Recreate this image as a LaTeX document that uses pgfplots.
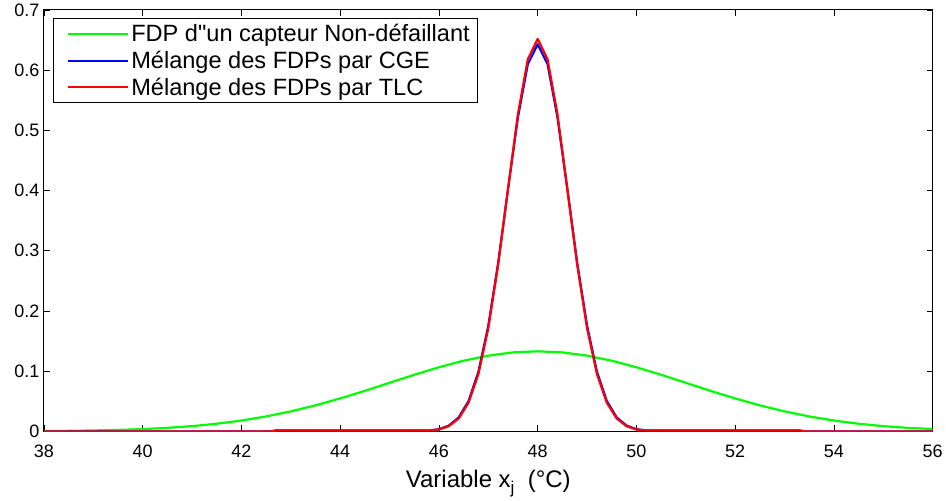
\documentclass[border=0pt]{standalone}
\usepackage{pgfplots}
\pgfplotsset{compat=1.18}
\usepackage{fontspec}
\setmainfont{Liberation Sans}
\newfontfamily\nomap{Liberation Sans}
\begin{document}
\begin{tikzpicture}
\begin{axis}[
  name=ax,
  width=890pt, height=422pt, scale only axis,
  xmin=38, xmax=56, ymin=0, ymax=0.7,
  xtick={38,40,...,56},
  ytick={0,0.1,0.2,0.3,0.4,0.5,0.6,0.7},
  yticklabel style={/pgf/number format/fixed},
  /pgf/number format/assume math mode=true,
  tick align=inside,
  major tick length=6pt,
  tick style={black, line width=0.8pt},
  axis line style={line width=1pt},
  ticklabel style={font=\fontsize{18}{20}\selectfont},
  xticklabel style={yshift=-10pt},
  yticklabel style={xshift=-1pt},
  xlabel={Variable x\raisebox{-6pt}{\fontsize{17}{17}\selectfont j}\ \ (°C)},
  xlabel style={font=\fontsize{24}{26}\selectfont, yshift=-6pt},
  legend style={at={(0.0101,0.981)}, anchor=north west, draw=black, line width=0.8pt,
    font=\fontsize{23.6}{27}\selectfont, inner xsep=6pt, inner ysep=4pt,
    row sep=4pt, legend cell align=left},
  legend image code/.code={\path (-8pt,0pt); \draw[#1, line width=2pt] (0pt,0pt) -- (60pt,0pt);},
  every axis plot/.append style={line width=2.2pt, line join=round},
]
\addplot[color={rgb,1:red,0;green,1;blue,0}] coordinates {
(38,0.0005)(38.5,0.0009)(39,0.0015)(39.5,0.0024)(40,0.0038)(40.5,0.0058)(41,0.0087)(41.5,0.0127)
(42,0.0180)(42.5,0.0248)(43,0.0332)(43.5,0.0432)(44,0.0547)(44.5,0.0673)(45,0.0807)(45.5,0.0940)
(46,0.1065)(46.5,0.1174)(47,0.1258)(47.5,0.1312)(48,0.1330)(48.5,0.1312)(49,0.1258)(49.5,0.1174)
(50,0.1065)(50.5,0.0940)(51,0.0807)(51.5,0.0673)(52,0.0547)(52.5,0.0432)(53,0.0332)(53.5,0.0248)
(54,0.0180)(54.5,0.0127)(55,0.0087)(55.5,0.0058)(56,0.0040)
};
\addlegendentry{FDP d{\nomap"}un capteur Non-défaillant}
\addplot[color={rgb,1:red,0;green,0;blue,1}] coordinates {
(38,0)(42.6,0)(42.7,0.0015)(45.8,0.0015)
(46.0,0.0036)(46.2,0.0096)(46.4,0.0231)(46.6,0.0504)(46.8,0.0991)(47.0,0.1755)(47.2,0.280)(47.4,0.403)
(47.6,0.522)(47.8,0.610)(48.0,0.643)(48.2,0.610)(48.4,0.522)(48.6,0.403)(48.8,0.280)(49.0,0.1755)
(49.2,0.0991)(49.4,0.0504)(49.6,0.0231)(49.8,0.0096)(50.0,0.0036)
(50.2,0.0015)(53.3,0.0015)(53.4,0)(56,0)
};
\addlegendentry{Mélange des FDPs par CGE}
\addplot[color={rgb,1:red,1;green,0;blue,0}] coordinates {
(38,0)(42.6,0)(42.7,0.0015)(45.8,0.0015)
(46.0,0.0031)(46.2,0.0086)(46.4,0.0214)(46.6,0.0476)(46.8,0.0953)(47.0,0.1716)(47.2,0.277)(47.4,0.403)
(47.6,0.527)(47.8,0.618)(48.0,0.652)(48.2,0.618)(48.4,0.527)(48.6,0.403)(48.8,0.277)(49.0,0.1716)
(49.2,0.0953)(49.4,0.0476)(49.6,0.0214)(49.8,0.0086)(50.0,0.0031)
(50.2,0.0015)(53.3,0.0015)(53.4,0)(56,0)
};
\addlegendentry{Mélange des FDPs par TLC}
\end{axis}
\useasboundingbox ([shift={(-44pt,-67pt)}]ax.south west) rectangle ([shift={(12pt,10pt)}]ax.north east);
\end{tikzpicture}
\end{document}
